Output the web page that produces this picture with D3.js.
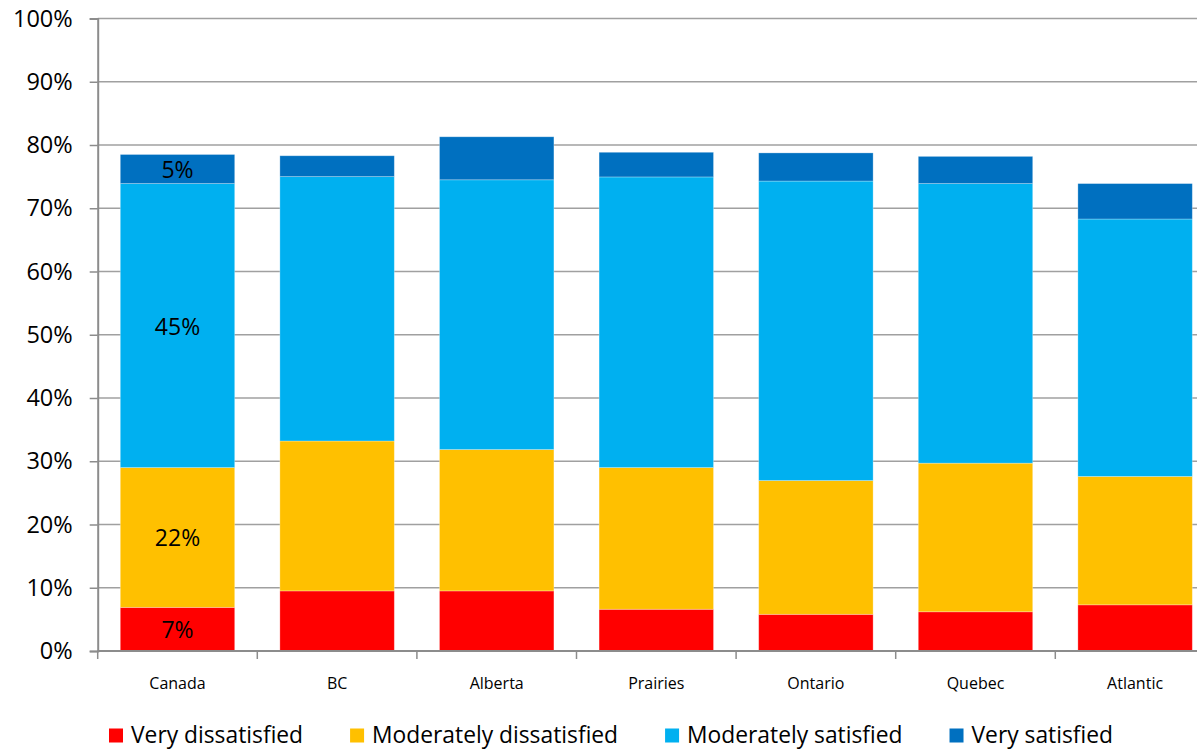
<!DOCTYPE html>
<html>
<head>
<meta charset="utf-8">
<script src="https://cdn.jsdelivr.net/npm/d3@7"></script>
<style>
  html, body { margin: 0; padding: 0; background: #fff; }
  svg { display: block; font-family: "Open Sans", "Noto Sans", sans-serif; }
</style>
</head>
<body>
<svg id="chart" width="1197" height="751"></svg>
<script>
// Satisfaction by region, share of respondents (%)
const regions = ["Canada", "BC", "Alberta", "Prairies", "Ontario", "Quebec", "Atlantic"];
const seriesNames = ["Very dissatisfied", "Moderately dissatisfied", "Moderately satisfied", "Very satisfied"];
const veryDissatisfied     = [6.9, 9.5, 9.5, 6.6, 5.8, 6.2, 7.3];
const moderatelyDissatisfied = [22.1, 23.7, 22.35, 22.4, 21.15, 23.5, 20.3];
const moderatelySatisfied  = [44.9, 41.8, 42.65, 45.95, 47.35, 44.2, 40.7];
const verySatisfied        = [4.6, 3.3, 6.8, 3.9, 4.45, 4.3, 5.6];
const seriesColors = ["#FF0000", "#FFC000", "#00B0F0", "#0070C0"];
const yTicks = [0, 10, 20, 30, 40, 50, 60, 70, 80, 90, 100];
// Only the national bar carries value labels
const labelledRegion = "Canada";

const svg = d3.select("#chart");
const W = 1197;

const margin = { left: 97.7, top: 18.5, bottom: 651 };
const step = 159.6;

const x = d3.scaleBand()
  .domain(regions)
  .range([margin.left, margin.left + step * regions.length])
  .paddingInner(0.283)
  .paddingOuter(0.1415);

const y = d3.scaleLinear().domain([0, 100]).range([margin.bottom, margin.top]);

// Gridlines
svg.append("g")
  .selectAll("line")
  .data(yTicks)
  .join("line")
  .attr("x1", margin.left)
  .attr("x2", W)
  .attr("y1", d => y(d))
  .attr("y2", d => y(d))
  .attr("stroke", "#A0A0A0")
  .attr("stroke-width", 1.5);

// Stacked data
const rows = regions.map((r, i) => ({
  region: r,
  [seriesNames[0]]: veryDissatisfied[i],
  [seriesNames[1]]: moderatelyDissatisfied[i],
  [seriesNames[2]]: moderatelySatisfied[i],
  [seriesNames[3]]: verySatisfied[i]
}));
const stacked = d3.stack().keys(seriesNames)(rows);

const layers = svg.append("g")
  .selectAll("g")
  .data(stacked)
  .join("g")
  .attr("fill", (d, i) => seriesColors[i]);

layers.selectAll("rect")
  .data(d => d)
  .join("rect")
  .attr("x", d => x(d.data.region))
  .attr("width", x.bandwidth())
  .attr("y", d => y(d[1]))
  .attr("height", d => y(d[0]) - y(d[1]))
  .attr("stroke", "rgba(255,255,255,0.35)")
  .attr("stroke-width", 0.8);

// Value labels on the national bar
const fmt = v => Math.round(v) + "%";
layers.selectAll("text")
  .data(d => d.filter(p => p.data.region === labelledRegion).map(p => ({ p, key: d.key })))
  .join("text")
  .attr("x", d => x(d.p.data.region) + x.bandwidth() / 2)
  .attr("y", d => (y(d.p[0]) + y(d.p[1])) / 2)
  .attr("text-anchor", "middle")
  .attr("dominant-baseline", "central")
  .attr("fill", "#000")
  .attr("font-size", 23)
  .text(d => fmt(d.p.data[d.key]));

// Y axis
const yAxis = svg.append("g")
  .attr("transform", `translate(${margin.left},0)`)
  .call(d3.axisLeft(y).tickValues(yTicks).tickFormat(d => d + "%").tickSize(8).tickPadding(17));
yAxis.select(".domain").attr("stroke", "#8C8C8C").attr("stroke-width", 2);
yAxis.selectAll(".tick line").attr("stroke", "#8C8C8C").attr("stroke-width", 1.5);
yAxis.selectAll(".tick text")
  .attr("font-size", 23.5)
  .attr("font-family", "'Open Sans', sans-serif")
  .attr("fill", "#000");

// X axis line and category separators
const xAxisG = svg.append("g");
xAxisG.append("line")
  .attr("x1", margin.left).attr("x2", W)
  .attr("y1", margin.bottom).attr("y2", margin.bottom)
  .attr("stroke", "#8C8C8C").attr("stroke-width", 2);
const boundaries = d3.range(regions.length + 1).map(i => margin.left + i * x.step());
xAxisG.selectAll("line.sep")
  .data(boundaries)
  .join("line")
  .attr("class", "sep")
  .attr("x1", d => d).attr("x2", d => d)
  .attr("y1", margin.bottom).attr("y2", margin.bottom + 8)
  .attr("stroke", "#8C8C8C").attr("stroke-width", 1.5);
xAxisG.selectAll("text")
  .data(regions)
  .join("text")
  .attr("x", d => x(d) + x.bandwidth() / 2)
  .attr("y", 683)
  .attr("text-anchor", "middle")
  .attr("dominant-baseline", "central")
  .attr("font-size", 16)
  .attr("fill", "#000")
  .text(d => d);

// Legend
const legend = svg.append("g");
let lx = 109;
seriesNames.forEach((name, i) => {
  legend.append("rect")
    .attr("x", lx).attr("y", 728.5)
    .attr("width", 14).attr("height", 14)
    .attr("fill", seriesColors[i]);
  const t = legend.append("text")
    .attr("x", lx + 22)
    .attr("y", 734.5)
    .attr("dominant-baseline", "central")
    .attr("font-size", 22.8)
    .attr("fill", "#000")
    .text(name);
  lx = lx + 22 + t.node().getComputedTextLength() + 47;
});
</script>
</body>
</html>
